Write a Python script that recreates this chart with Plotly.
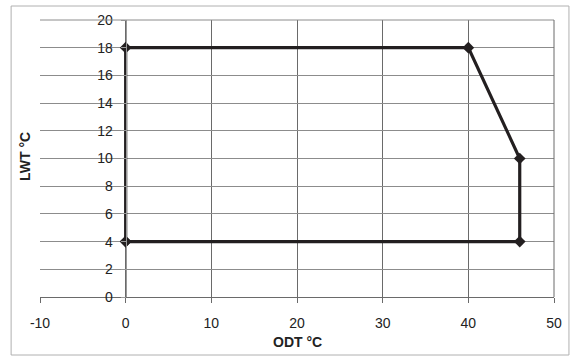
import plotly.graph_objects as go

odt = [0, 0, 40, 46, 46, 0]
lwt = [4, 18, 18, 10, 4, 4]
x_ticks = [-10, 0, 10, 20, 30, 40, 50]
y_ticks = [0, 2, 4, 6, 8, 10, 12, 14, 16, 18, 20]

fig = go.Figure()
fig.add_trace(go.Scatter(
    x=odt, y=lwt, mode="lines+markers",
    line=dict(color="#231f20", width=3.2),
    marker=dict(symbol="diamond", size=9, color="#231f20"),
    showlegend=False, cliponaxis=False,
))

W, H = 574, 356
L, R, T, B = 40, 18, 20, 59
pw, ph = W - L - R, H - T - B

def px(x):
    return (x - L) / pw

def py(y):
    return (H - B - y) / ph

fig.update_layout(
    width=W, height=H,
    margin=dict(l=L, r=R, t=T, b=B),
    paper_bgcolor="white", plot_bgcolor="white",
    font=dict(family="Liberation Sans, Arial, sans-serif", size=14, color="#222"),
    xaxis=dict(
        range=[-10, 50], tickvals=x_ticks, ticktext=[str(v) for v in x_ticks],
        showgrid=True, gridcolor="#6a6a6a", gridwidth=1,
        showline=True, linecolor="#6a6a6a", linewidth=1,
        ticks="outside", ticklen=5, tickcolor="#6a6a6a",
        zeroline=False, ticklabelstandoff=8,
        tickfont=dict(size=14, color="#222"),
    ),
    yaxis=dict(
        range=[0, 20], tickvals=y_ticks, ticktext=[str(v) for v in y_ticks],
        anchor="free", position=1/6,
        showgrid=True, gridcolor="#8c8c8c", gridwidth=1,
        showline=True, linecolor="#999999", linewidth=1,
        ticks="outside", ticklen=5, tickcolor="#999999",
        zeroline=False, ticklabelstandoff=5,
        tickfont=dict(size=14, color="#222"),
    ),
    shapes=[
        dict(type="rect", xref="paper", yref="paper",
             x0=px(11), x1=px(571), y0=py(355), y1=py(6),
             line=dict(color="#b0b0b0", width=1), layer="below"),
        dict(type="line", xref="paper", yref="paper",
             x0=0, x1=1, y0=1, y1=1, line=dict(color="#8c8c8c", width=1)),
        dict(type="line", xref="paper", yref="paper",
             x0=1, x1=1, y0=0, y1=1, line=dict(color="#6a6a6a", width=1)),
    ],
    annotations=[
        dict(text="<b>ODT °C</b>", xref="paper", yref="paper",
             x=px(298), y=py(342), xanchor="center", yanchor="middle",
             showarrow=False, font=dict(size=14, color="#222")),
        dict(text="<b>LWT °C</b>", xref="paper", yref="paper",
             x=px(25), y=py(157), xanchor="center", yanchor="middle",
             showarrow=False, textangle=-90,
             font=dict(size=14, color="#222")),
    ],
)

fig.write_html("out.html")
